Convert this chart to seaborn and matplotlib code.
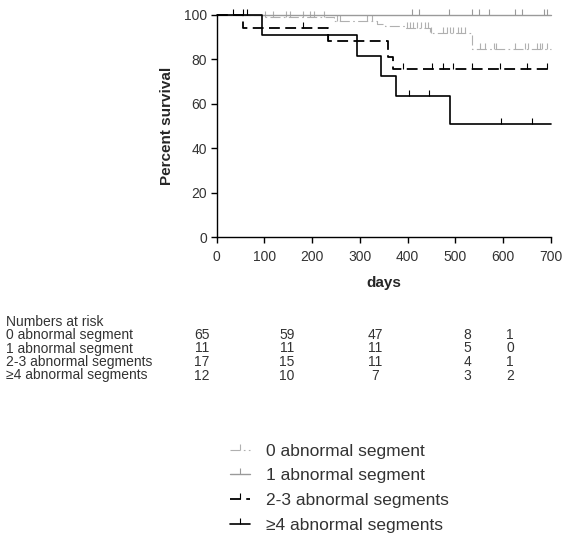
import numpy as np
import pandas as pd
import seaborn as sns
import matplotlib.pyplot as plt
from matplotlib.lines import Line2D

# survival curves (step values)
groups = ["0 abnormal segment", "1 abnormal segment",
          "2-3 abnormal segments", "\u22654 abnormal segments"]

days_0 = [0, 98, 245, 335, 353, 395, 447, 535, 700]
surv_0 = [100, 99, 97, 96, 95, 94, 92, 84.5, 84.5]
cens_0 = [101, 118, 145, 153, 181, 196, 203, 224, 252, 259, 315, 325, 399, 405,
          412, 420, 428, 436, 442, 450, 475, 482, 488, 495, 505, 512, 521, 552,
          563, 581, 585, 625, 647, 653, 672, 677, 682, 693]

days_1 = [0, 700]
surv_1 = [100, 100]
cens_1 = [409, 423, 486, 535, 549, 570, 625, 639, 685, 692]

days_23 = [0, 54, 234, 359, 370, 700]
surv_23 = [100, 94, 88, 81, 75.5, 75.5]
cens_23 = [181, 234, 391, 451, 474, 495, 535, 594, 650, 692]

days_4 = [0, 94, 293, 344, 375, 489, 700]
surv_4 = [100, 91, 81.5, 72.5, 63.5, 51, 51]
cens_4 = [33, 56, 64, 402, 444, 596, 661]

# numbers at risk table
risk_title = "Numbers at risk"
risk_0 = [65, 59, 47, 8, 1]
risk_1 = [11, 11, 11, 5, 0]
risk_23 = [17, 15, 11, 4, 1]
risk_4 = [12, 10, 7, 3, 2]

x_ticks = [0, 100, 200, 300, 400, 500, 600, 700]
y_ticks = [0, 20, 40, 60, 80, 100]

sns.set_style("ticks")
plt.rcParams["font.family"] = ["Liberation Sans", "DejaVu Sans"]

fig = plt.figure(figsize=(5.66, 5.35), dpi=100)
ax = fig.add_axes([0.383, 0.5565, 0.590, 0.416])

styles = {
    groups[0]: dict(color="#b0b0b0", lw=0.8, dashes=(9, 3, 1.5, 3)),
    groups[1]: dict(color="#9a9a9a", lw=1.0, dashes=""),
    groups[2]: dict(color="black", lw=1.3, dashes=(6, 3)),
    groups[3]: dict(color="black", lw=1.2, dashes=""),
}
series = [(days_0, surv_0, cens_0), (days_1, surv_1, cens_1),
          (days_23, surv_23, cens_23), (days_4, surv_4, cens_4)]

for name, (d, s, c) in zip(groups, series):
    st = styles[name]
    df = pd.DataFrame({"day": d, "surv": s})
    sns.lineplot(data=df, x="day", y="surv", ax=ax, drawstyle="steps-post",
                 color=st["color"], lw=st["lw"], estimator=None, sort=False,
                 clip_on=False)
    line = ax.lines[-1]
    if st["dashes"]:
        line.set_dashes(st["dashes"])
    # censor ticks on the curve
    idx = np.searchsorted(d, c, side="right") - 1
    cy = np.array(s)[idx]
    ax.plot(c, cy, ls="none", marker=2, ms=4, mew=0.8, color=st["color"],
            clip_on=False)

ax.set_xlim(0, 700)
ax.set_ylim(0, 100)
ax.set_xticks(x_ticks)
ax.set_yticks(y_ticks)
ax.tick_params(direction="out", length=4, width=1, colors="black",
               labelcolor="#333333", labelsize=10)
ax.tick_params(axis="x", pad=5)
ax.tick_params(axis="y", pad=3)
for sp in ["left", "bottom"]:
    ax.spines[sp].set_linewidth(1)
    ax.spines[sp].set_color("black")
sns.despine(ax=ax)
ax.set_xlabel("days", fontsize=11, fontweight="bold", labelpad=9)
ax.set_ylabel("Percent survival", fontsize=11, fontweight="bold", labelpad=7)

# numbers at risk
W, H = 566, 535
col_x = [202, 287, 375, 467, 510]
row_y = [335, 348.5, 362, 375.5]
fs_tab = 10
fig.text(6 / W, 1 - 322 / H, risk_title, fontsize=fs_tab, color="#333333",
         va="center")
for lab, vals, yy in zip(groups, [risk_0, risk_1, risk_23, risk_4], row_y):
    fig.text(6 / W, 1 - yy / H, lab, fontsize=fs_tab, color="#333333", va="center")
    for v, xx in zip(vals, col_x):
        fig.text(xx / W, 1 - yy / H, str(v), fontsize=fs_tab, color="#333333",
                 va="center", ha="center")

handles = []
for name in groups:
    st = styles[name]
    h = Line2D([0], [0], color=st["color"], lw=st["lw"], marker=2, ms=4,
               mew=0.8, markevery=[1])
    h.set_xdata([0, 0.5, 1])
    if st["dashes"]:
        h.set_dashes(st["dashes"])
    handles.append(h)
fig.legend(handles, groups, loc="upper left", bbox_to_anchor=(214 / W, 1 - 428 / H),
           frameon=False, fontsize=12.5, handlelength=1.2, handletextpad=0.9,
           labelspacing=0.55, labelcolor="#333333")

fig.savefig("out.png", dpi=100)
